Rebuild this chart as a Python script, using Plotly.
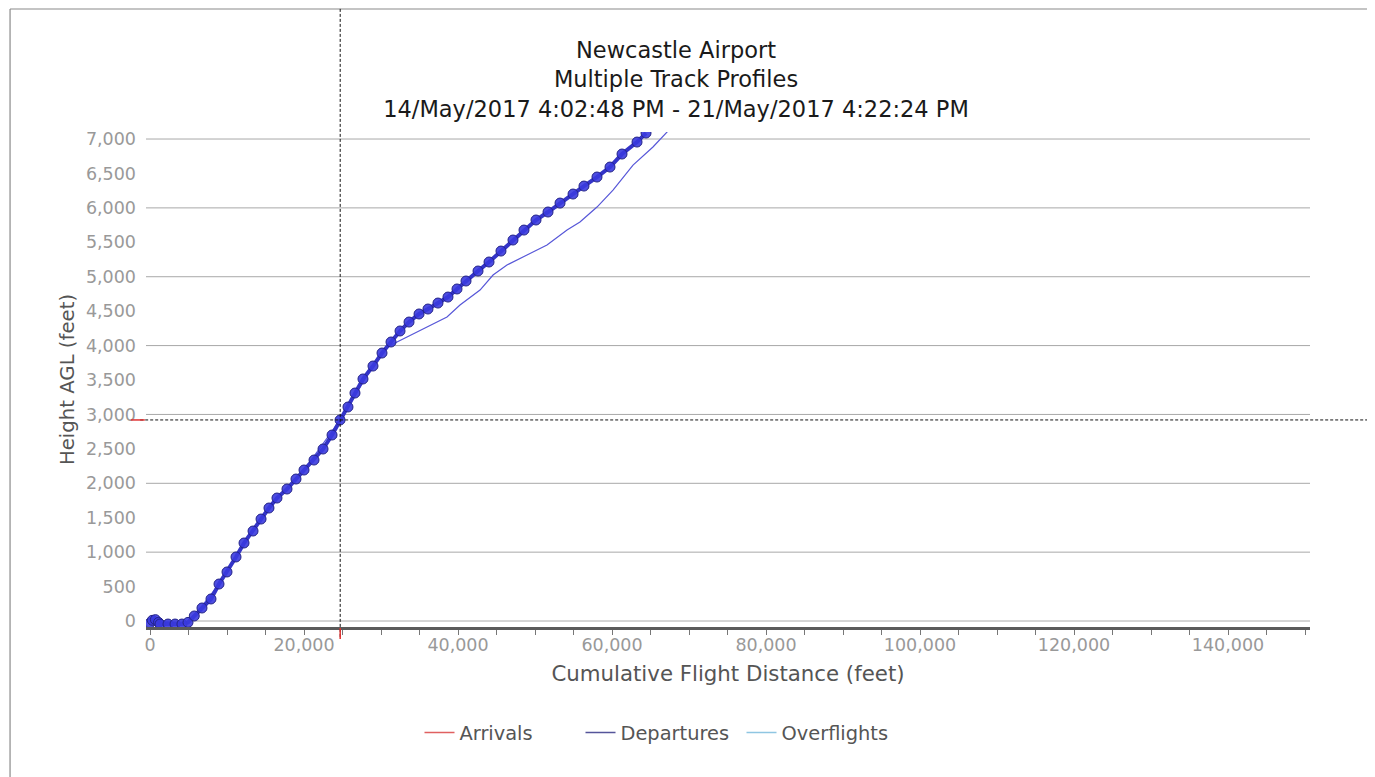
import plotly.graph_objects as go

# ---- data ----
dep_x = [0, 300, 700, 1100, 1300, 2340, 3250, 4150, 4935, 5750, 6750, 7920, 8960, 10000,
         11170, 12210, 13380, 14420, 15450, 16490, 17790, 18960, 20000, 21300, 22470,
         23640, 24680, 25710, 26620, 27660, 28960, 30130, 31300, 32470, 33640, 34940,
         36100, 37400, 38700, 39870, 41040, 42600, 44030, 45580, 47140, 48570, 50130,
         51690, 53250, 54940, 56360, 58050, 59740, 61300, 63250, 64420]
dep_y = [-30, 10, 20, -20, -44, -44, -44, -44, -20, 73, 189, 320, 537, 712,
         930, 1133, 1307, 1481, 1641, 1786, 1917, 2062, 2193, 2338, 2498,
         2701, 2919, 3108, 3311, 3515, 3703, 3892, 4052, 4212, 4342, 4459,
         4531, 4618, 4705, 4822, 4938, 5083, 5214, 5373, 5533, 5678, 5824,
         5940, 6070, 6201, 6317, 6448, 6593, 6782, 6956, 7087]

dep2_x = [0, 4935, 5750, 8960, 12210, 16490, 20000, 24680, 28960, 30780, 33380, 35970,
          38570, 40260, 42860, 44550, 46360, 48960, 51560, 54160, 55840, 58050, 60130,
          62730, 65320, 67270]
dep2_y = [0, -20, 73, 537, 1133, 1786, 2193, 2919, 3703, 3979, 4124, 4270,
          4415, 4589, 4807, 5025, 5170, 5315, 5461, 5678, 5795, 6012, 6259,
          6622, 6884, 7116]

legend_names = ["Arrivals", "Departures", "Overflights"]
legend_colors = ["#e06060", "#55559a", "#8fc6e2"]

y_grid = [0, 1000, 2000, 3000, 4000, 5000, 6000, 7000]
cross_x = 24700
cross_y = 2920

title_lines = ["Newcastle Airport", "Multiple Track Profiles",
               "14/May/2017 4:02:48 PM - 21/May/2017 4:22:24 PM"]

FONT = "DejaVu Sans"
W, H = 1367, 769   # page body has an 8px margin

fig = go.Figure()

fig.add_trace(go.Scatter(
    x=dep2_x, y=dep2_y, mode="lines",
    line=dict(color="#5757d8", width=1.2), showlegend=False, hoverinfo="skip"))

fig.add_trace(go.Scatter(
    x=dep_x, y=dep_y, mode="lines+markers",
    line=dict(color="#3434c8", width=4),
    marker=dict(size=10, color="rgba(58,58,222,0.9)", line=dict(color="#242488", width=1)),
    showlegend=False, hoverinfo="skip"))

for name, col in zip(legend_names, legend_colors):
    fig.add_trace(go.Scatter(x=[None], y=[None], mode="lines", name=name,
                             line=dict(color=col, width=1.5)))

shapes = []
for g in y_grid:
    shapes.append(dict(type="line", xref="paper", x0=0, x1=1, yref="y", y0=g, y1=g,
                       line=dict(color="#a8a8a8", width=1), layer="below"))
# outer frame (left and top edges only; others fall outside the view)
shapes.append(dict(type="line", xref="paper", yref="paper", x0=-0.1168, x1=-0.1168,
                   y0=-0.4, y1=1.2485, line=dict(color="#8a8a8a", width=1.2)))
shapes.append(dict(type="line", xref="paper", yref="paper", x0=-0.1168, x1=1.2,
                   y0=1.2485, y1=1.2485, line=dict(color="#8a8a8a", width=1.2)))
# crosshair
shapes.append(dict(type="line", xref="x", x0=cross_x, x1=cross_x, yref="paper",
                   y0=-0.02, y1=1.28, line=dict(color="#111", width=1, dash="3px,2px")))
shapes.append(dict(type="line", yref="y", y0=cross_y, y1=cross_y, xref="paper",
                   x0=-0.005, x1=1.08, line=dict(color="#111", width=1, dash="3px,2px")))
# red axis pointers
shapes.append(dict(type="line", xref="x", x0=cross_x, x1=cross_x, yref="paper",
                   y0=-0.002, y1=-0.024, line=dict(color="#e03030", width=1.5)))
shapes.append(dict(type="line", yref="y", y0=cross_y, y1=cross_y, xref="paper",
                   x0=-0.013, x1=-0.001, line=dict(color="#e03030", width=1.5)))

fig.update_layout(
    width=W, height=H,
    margin=dict(l=138, r=65, t=124, b=150),
    paper_bgcolor="white", plot_bgcolor="white",
    font=dict(family=FONT, color="#555"),
    title=dict(text="<br>".join(title_lines), x=668 / W, xref="container", xanchor="center",
               y=1 - 50 / H, yref="container", yanchor="top",
               font=dict(family=FONT, size=22.5, color="#1a1a1a")),
    xaxis=dict(range=[-520, 150650], dtick=20000, tickformat=",d",
               showgrid=False, zeroline=False,
               showline=True, linecolor="#5a5a5a", linewidth=3,
               ticks="outside", ticklen=5, tickcolor="#777", tickwidth=1,
               ticklabelstandoff=-5,
               minor=dict(dtick=5000, ticks="outside", ticklen=5, tickcolor="#777", showgrid=False),
               tickfont=dict(size=17.5, color="#999"),
               title=dict(text="Cumulative Flight Distance (feet)", standoff=13,
                          font=dict(size=21.3, color="#555"))),
    yaxis=dict(range=[-87, 7102], dtick=500, tickformat=",d",
               showgrid=False, zeroline=False, showline=False,
               ticks="", ticklabelstandoff=9,
               tickfont=dict(size=17.5, color="#999"),
               title=dict(text="Height AGL (feet)", standoff=5,
                          font=dict(size=19.7, color="#555"))),
    legend=dict(orientation="h", xref="container", yref="container",
                x=653 / W, xanchor="center", y=1 - 725 / H, yanchor="middle",
                font=dict(size=19.4, color="#555"), itemwidth=30,
                entrywidth=116, entrywidthmode="pixels",
                bgcolor="rgba(0,0,0,0)"),
    shapes=shapes,
)

fig.write_html("out.html")
